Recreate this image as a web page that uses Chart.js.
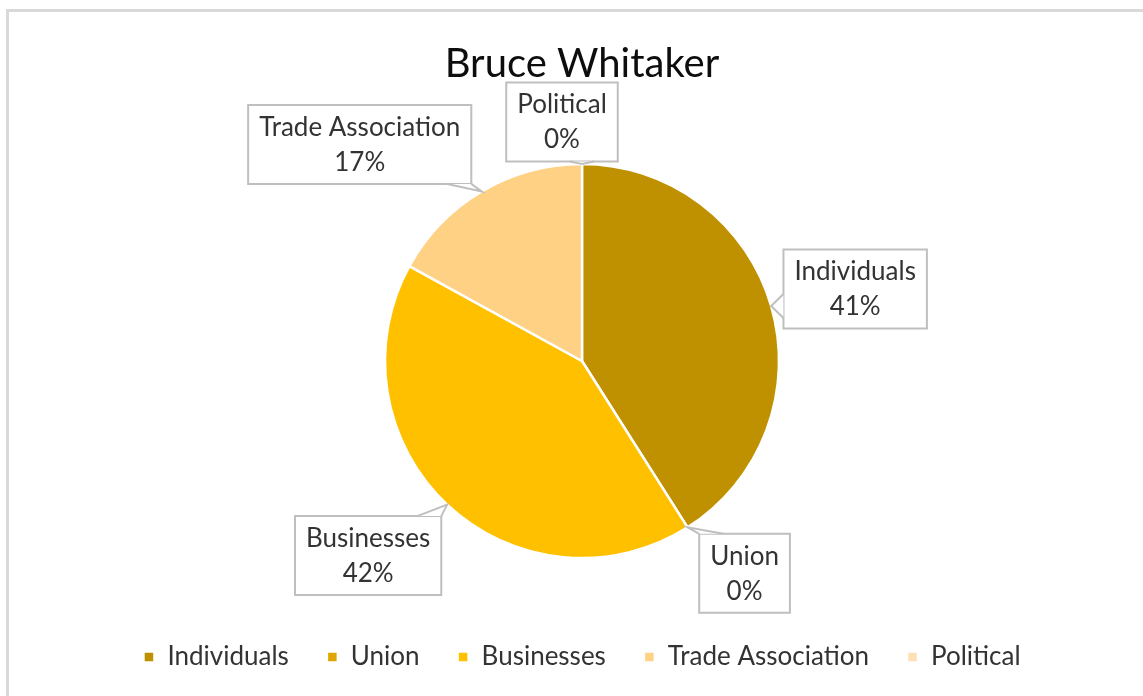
<!DOCTYPE html>
<html>
<head>
<meta charset="utf-8">
<script src="https://cdn.jsdelivr.net/npm/chart.js@4.4.1/dist/chart.umd.min.js"></script>
<style>
  html, body { margin: 0; padding: 0; background: #fff; }
  #wrap { position: relative; width: 1143px; height: 696px; overflow: hidden; }
  #frame {
    position: absolute; left: 6px; top: 9px; right: -10px; bottom: -10px;
    border-top: 3px solid #d9d9d9; border-left: 3px solid #d9d9d9;
  }
  #chart { position: absolute; left: 0; top: 0; }
</style>
</head>
<body>
<div id="wrap">
  <div id="frame"></div>
  <canvas id="chart" width="1143" height="696"></canvas>
</div>
<script>
// Funding sources
const categories = ["Individuals", "Union", "Businesses", "Trade Association", "Political"];
const shares = [41, 0, 42, 17, 0];
const sliceColors = ["#bf9000", "#dfa500", "#ffc000", "#ffd184", "#ffdfb4"];
const chartTitle = "Bruce Whitaker";

// Callout box centres, relative to the slice's anchor on the rim
const calloutOffsets = [
  [84, -17],   // Individuals
  [57, 46],    // Union
  [-79, 51],   // Businesses
  [-122, -47], // Trade Association
  [-20, -42],  // Political
];

const FONT = "Lato, 'Open Sans', sans-serif";

const calloutPlugin = {
  id: "callouts",
  afterDatasetsDraw(chart) {
    const ctx = chart.ctx;
    const meta = chart.getDatasetMeta(0);
    const total = shares.reduce((a, b) => a + b, 0);
    ctx.save();
    ctx.font = "26px " + FONT;
    meta.data.forEach((arc, i) => {
      const { x, y, startAngle, endAngle, outerRadius } = arc.getProps(
        ["x", "y", "startAngle", "endAngle", "outerRadius"], true);
      const mid = (startAngle + endAngle) / 2;
      const ax = x + Math.cos(mid) * outerRadius;
      const ay = y + Math.sin(mid) * outerRadius;

      const line1 = categories[i];
      const line2 = Math.round((shares[i] / total) * 100) + "%";
      const w = Math.max(ctx.measureText(line1).width, ctx.measureText(line2).width) + 22;
      const h = 79;
      const cx = ax + calloutOffsets[i][0];
      const cy = ay + calloutOffsets[i][1];
      const left = cx - w / 2, top = cy - h / 2, right = cx + w / 2, bottom = cy + h / 2;

      // wedge base on the box edge facing the anchor
      let b1, b2;
      const half = 12;
      if (ay > bottom || ay < top) {
        const ey = ay > bottom ? bottom : top;
        const bx = Math.min(Math.max(ax, left + half), right - half);
        b1 = [bx - half, ey]; b2 = [bx + half, ey];
      } else {
        const ex = ax < left ? left : right;
        const by = Math.min(Math.max(ay, top + half), bottom - half);
        b1 = [ex, by - half]; b2 = [ex, by + half];
      }

      ctx.lineWidth = 2;
      ctx.strokeStyle = "#bfbfbf";
      ctx.fillStyle = "#ffffff";

      ctx.beginPath();
      ctx.rect(left, top, w, h);
      ctx.fill();
      ctx.stroke();

      ctx.beginPath();
      ctx.moveTo(b1[0], b1[1]);
      ctx.lineTo(ax, ay);
      ctx.lineTo(b2[0], b2[1]);
      ctx.closePath();
      ctx.fill();
      ctx.beginPath();
      ctx.moveTo(b1[0], b1[1]);
      ctx.lineTo(ax, ay);
      ctx.lineTo(b2[0], b2[1]);
      ctx.stroke();

      ctx.fillStyle = "#333333";
      ctx.textAlign = "center";
      ctx.textBaseline = "middle";
      ctx.fillText(line1, cx, cy - 17);
      ctx.fillText(line2, cx, cy + 18);
    });
    ctx.restore();
  },
};

new Chart(document.getElementById("chart"), {
  type: "pie",
  data: {
    labels: categories,
    datasets: [{
      data: shares,
      backgroundColor: sliceColors,
      borderColor: "#ffffff",
      borderWidth: 2.5,
      radius: 197,
    }],
  },
  options: {
    responsive: false,
    animation: false,
    layout: { padding: { left: 21, right: 0, top: 0, bottom: 16 } },
    plugins: {
      title: {
        display: true,
        text: chartTitle,
        color: "#0d0d0d",
        font: { family: FONT, size: 40, weight: "normal" },
        padding: { top: 40, bottom: 28 },
      },
      legend: {
        position: "bottom",
        labels: {
          color: "#333333",
          font: { family: FONT, size: 26 },
          boxWidth: 11,
          boxHeight: 11,
          padding: 38,
        },
      },
      tooltip: { enabled: false },
    },
  },
  plugins: [calloutPlugin],
});
</script>
</body>
</html>
